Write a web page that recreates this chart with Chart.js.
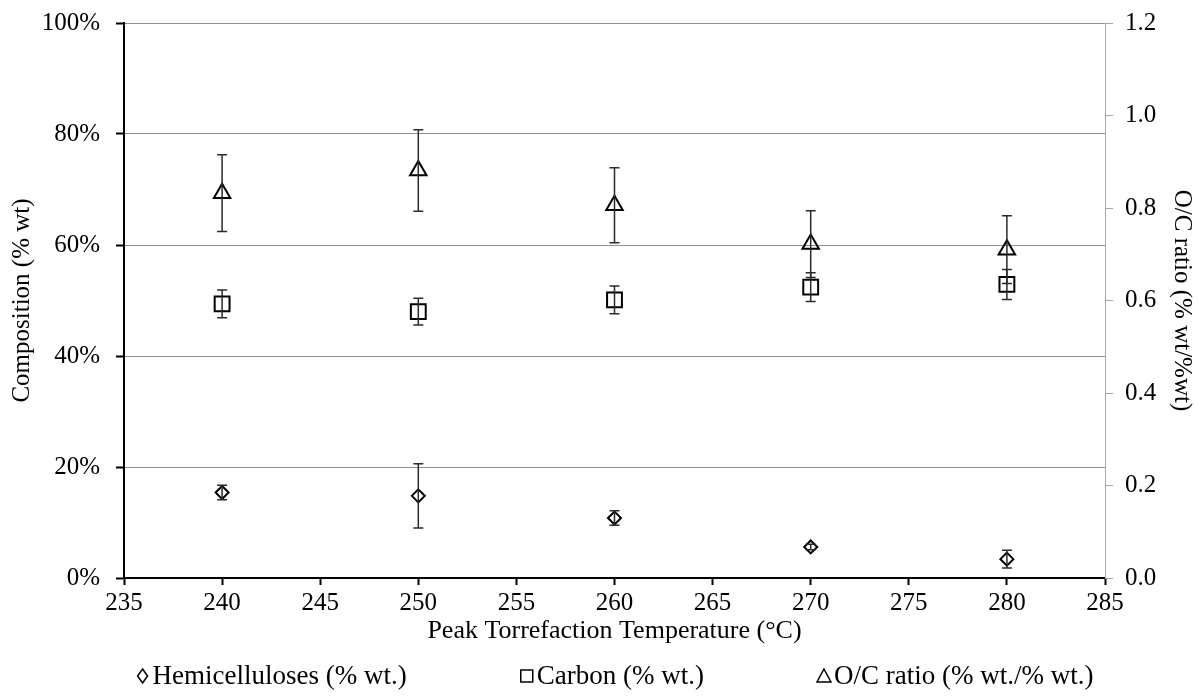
<!DOCTYPE html>
<html>
<head>
<meta charset="utf-8">
<script src="https://cdn.jsdelivr.net/npm/chart.js@4.4.1/dist/chart.umd.min.js"></script>
<style>
  html, body { margin: 0; padding: 0; background: #fff; }
  #wrap { width: 1198px; height: 698px; }
</style>
</head>
<body>
<div id="wrap"><canvas id="chart" width="1198" height="698"></canvas></div>
<script>
// values
const temperatures = [240, 250, 260, 270, 280];
const hemicellulose = [15.4, 14.8, 10.8, 5.6, 3.4];
const hemicelluloseErr = [1.3, 5.8, 1.3, 0.5, 1.6];
const carbon = [49.4, 48.0, 50.1, 52.4, 52.9];
const carbonErr = [2.5, 2.4, 2.5, 2.6, 2.7];
const ocRatio = [0.832, 0.881, 0.806, 0.722, 0.710];
const ocRatioErr = [0.083, 0.088, 0.081, 0.072, 0.073];
const seriesLabels = ["Hemicelluloses (% wt.)", "Carbon (% wt.)", "O/C ratio (% wt./% wt.)"];

const FONT = "'Liberation Serif', 'Times New Roman', serif";
Chart.defaults.font.family = FONT;
Chart.defaults.font.size = 25;
Chart.defaults.color = "#000";

function toPoints(values) {
    return values.map((v, i) => ({ x: temperatures[i], y: v }));
}

// vertical error bars with caps, drawn through the dataset's own y scale
const errorBarPlugin = {
    id: "errorBars",
    afterDatasetsDraw(chart) {
        const ctx = chart.ctx;
        chart.data.datasets.forEach((ds, i) => {
            const meta = chart.getDatasetMeta(i);
            const scale = chart.scales[ds.yAxisID];
            ctx.save();
            ctx.strokeStyle = "#2b2b2b";
            ctx.lineWidth = 1.5;
            meta.data.forEach((pt, j) => {
                const v = ds.data[j].y;
                const e = ds.errors[j];
                const top = scale.getPixelForValue(v + e);
                const bot = scale.getPixelForValue(v - e);
                ctx.beginPath();
                ctx.moveTo(pt.x, top);
                ctx.lineTo(pt.x, bot);
                ctx.moveTo(pt.x - 5, top);
                ctx.lineTo(pt.x + 5, top);
                ctx.moveTo(pt.x - 5, bot);
                ctx.lineTo(pt.x + 5, bot);
                ctx.stroke();
            });
            ctx.restore();
        });
    }
};

function drawSymbol(ctx, style, x, y) {
    ctx.beginPath();
    if (style === "rectRot") {
        ctx.moveTo(x, y - 7);
        ctx.lineTo(x + 5, y);
        ctx.lineTo(x, y + 7);
        ctx.lineTo(x - 5, y);
    } else if (style === "rect") {
        ctx.rect(x - 6, y - 6, 12, 12);
    } else {
        ctx.moveTo(x, y - 7);
        ctx.lineTo(x + 7, y + 6);
        ctx.lineTo(x - 7, y + 6);
    }
    ctx.closePath();
    ctx.stroke();
}

// legend row under the axis title, spaced like the original
const bottomLegendPlugin = {
    id: "bottomLegend",
    afterDraw(chart) {
        const ctx = chart.ctx;
        const gap = 113;
        const symbolW = 17;
        ctx.save();
        ctx.font = "27px " + FONT;
        ctx.fillStyle = "#000";
        ctx.strokeStyle = "#000";
        ctx.lineWidth = 1.5;
        ctx.textBaseline = "middle";
        ctx.textAlign = "left";
        const widths = chart.data.datasets.map(ds => symbolW + ctx.measureText(ds.label).width);
        const total = widths.reduce((a, b) => a + b, 0) + gap * (widths.length - 1);
        const center = (chart.chartArea.left + chart.chartArea.right) / 2;
        let x = center - total / 2;
        const y = chart.height - 22;
        chart.data.datasets.forEach((ds, i) => {
            drawSymbol(ctx, ds.pointStyle, x + 7, y);
            ctx.fillText(ds.label, x + symbolW, y + 1);
            x += widths[i] + gap;
        });
        ctx.restore();
    }
};

// fixed axis sizes; drop the label overflow padding so the plot reaches the top
function fitVertical(width) {
    return scale => {
        scale.width = width;
        scale.paddingTop = 0;
        scale.paddingBottom = 0;
    };
}

const commonPoint = {
    backgroundColor: "transparent",
    borderColor: "#000",
    pointBorderColor: "#000",
    pointBorderWidth: 2,
    pointHoverRadius: 0,
    showLine: false
};

new Chart(document.getElementById("chart").getContext("2d"), {
    type: "scatter",
    data: {
        datasets: [
            Object.assign({
                label: seriesLabels[0],
                data: toPoints(hemicellulose),
                errors: hemicelluloseErr,
                yAxisID: "y",
                pointStyle: "rectRot",
                pointRadius: 6.5
            }, commonPoint),
            Object.assign({
                label: seriesLabels[1],
                data: toPoints(carbon),
                errors: carbonErr,
                yAxisID: "y",
                pointStyle: "rect",
                pointRadius: 10.5
            }, commonPoint),
            Object.assign({
                label: seriesLabels[2],
                data: toPoints(ocRatio),
                errors: ocRatioErr,
                yAxisID: "y2",
                pointStyle: "triangle",
                pointRadius: 9.5
            }, commonPoint)
        ]
    },
    options: {
        responsive: false,
        animation: false,
        events: [],
        layout: { padding: { top: 23, bottom: 48, left: 0, right: 0 } },
        plugins: {
            legend: { display: false },
            tooltip: { enabled: false }
        },
        scales: {
            x: {
                type: "linear",
                min: 235,
                max: 285,
                ticks: { stepSize: 5, padding: 3 },
                grid: { drawOnChartArea: false, tickLength: 7, tickColor: "#000", tickWidth: 2 },
                border: { color: "#000", width: 2 },
                title: {
                    display: true,
                    text: "Peak Torrefaction Temperature (°C)",
                    font: { size: 26 },
                    padding: { top: 0, bottom: 3 }
                },
                afterFit: scale => { scale.height = 72; }
            },
            y: {
                position: "left",
                min: 0,
                max: 100,
                ticks: { stepSize: 20, padding: 16, callback: v => v + "%" },
                grid: { color: "#8f8f8f", lineWidth: 1, tickLength: 8, tickColor: "#000", tickWidth: 2 },
                border: { color: "#000", width: 2 },
                title: { display: true, text: "Composition (% wt)", padding: { top: 7, bottom: 0 } },
                afterFit: fitVertical(124)
            },
            y2: {
                position: "right",
                min: 0,
                max: 1.2,
                ticks: { stepSize: 0.2, padding: 12, callback: v => v.toFixed(1) },
                grid: { drawOnChartArea: false, tickLength: 8, tickColor: "#a6a6a6", tickWidth: 1 },
                border: { color: "#a6a6a6", width: 1 },
                title: { display: true, text: "O/C ratio (% wt/%wt)", padding: { top: 1, bottom: 0 } },
                afterFit: fitVertical(93)
            }
        }
    },
    plugins: [errorBarPlugin, bottomLegendPlugin]
});
</script>
</body>
</html>
